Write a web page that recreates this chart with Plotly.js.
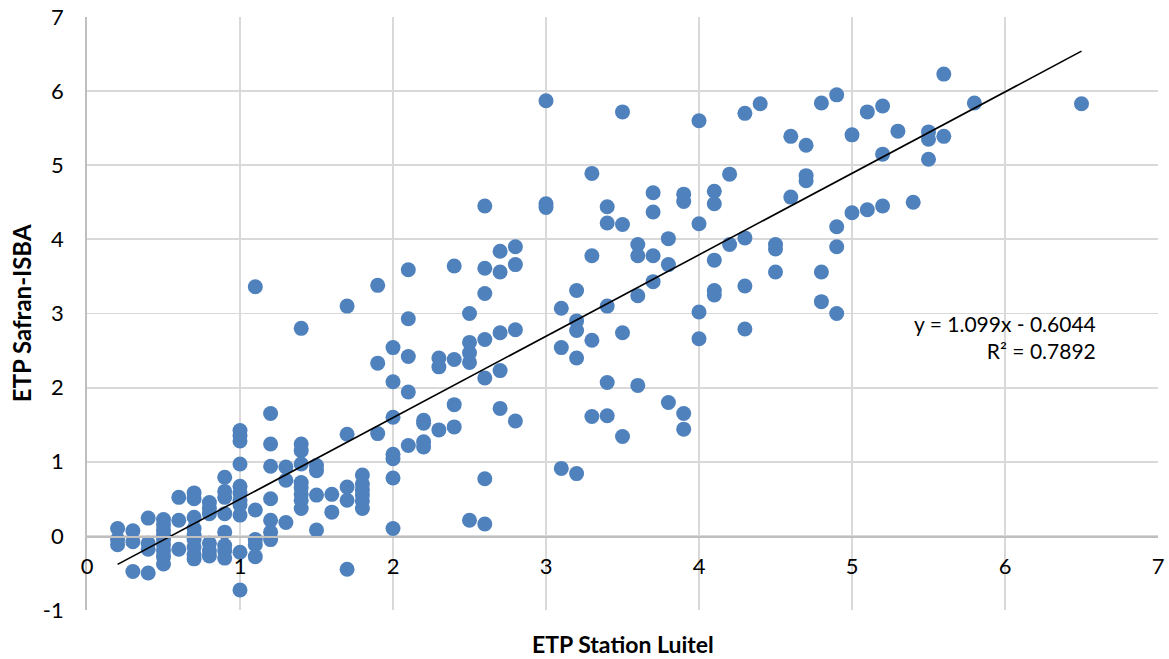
<!DOCTYPE html>
<html>
<head>
<meta charset="utf-8">
<script src="https://cdn.plot.ly/plotly-3.0.1.min.js"></script>
<style>html,body{margin:0;padding:0;background:#fff;}#chart{width:1169px;height:659px;}</style>
</head>
<body>
<div id="chart"></div>
<script>
// ETP Station Luitel values (x) and the ETP Safran-ISBA values observed at each (y)
const stationX = [0.2,0.3,0.4,0.5,0.6,0.7,0.8,0.9,1.0,1.1,1.2,1.3,1.4,1.5,1.6,1.7,1.8,1.9,2.0,2.1,2.2,2.3,2.4,2.5,2.6,2.7,2.8,3.0,3.1,3.2,3.3,3.4,3.5,3.6,3.7,3.8,3.9,4.0,4.1,4.2,4.3,4.4,4.5,4.6,4.7,4.8,4.9,5.0,5.1,5.2,5.3,5.4,5.5,5.6,5.8,6.5];
const safranY = [
  [0.1,-0.05,-0.12],
  [0.07,-0.08,-0.48],
  [0.24,-0.1,-0.18,-0.5],
  [0.22,0.15,0.08,0.02,-0.05,-0.12,-0.2,-0.28,-0.38],
  [0.52,0.21,-0.18],
  [0.58,0.5,0.25,0.1,0.02,-0.05,-0.15,-0.25,-0.31],
  [0.45,0.37,0.3,-0.1,-0.2,-0.27],
  [0.79,0.6,0.52,0.3,0.05,-0.13,-0.2,-0.3],
  [1.42,1.35,1.28,0.97,0.67,0.58,0.48,0.42,0.28,-0.22,-0.73],
  [3.36,0.35,-0.05,-0.12,-0.28],
  [1.65,1.24,0.94,0.5,0.21,0.05,-0.05],
  [0.93,0.75,0.18],
  [2.8,1.24,1.15,0.97,0.72,0.65,0.56,0.48,0.37],
  [0.95,0.88,0.55,0.08],
  [0.56,0.32],
  [3.1,1.37,0.66,0.48,-0.45],
  [0.82,0.7,0.62,0.55,0.47,0.37],
  [3.38,2.33,1.38],
  [2.54,2.08,1.6,1.1,1.04,0.78,0.1],
  [3.59,2.93,2.42,1.94,1.22],
  [1.56,1.52,1.27,1.2],
  [2.4,2.28,1.43],
  [3.64,2.38,1.77,1.47],
  [3.0,2.61,2.47,2.34,0.21],
  [4.45,3.61,3.27,2.65,2.13,0.77,0.16],
  [3.84,3.56,2.74,2.23,1.72],
  [3.9,3.66,2.78,1.55],
  [5.87,4.48,4.43],
  [3.07,2.54,0.91],
  [3.31,2.9,2.77,2.4,0.84],
  [4.89,3.78,2.64,1.61],
  [4.44,4.22,3.1,2.07,1.62],
  [5.72,4.2,2.74,1.34],
  [3.93,3.78,3.24,2.03],
  [4.63,4.37,3.78,3.43],
  [4.01,3.66,1.8],
  [4.61,4.51,1.65,1.44],
  [5.6,4.21,3.02,2.66],
  [4.65,4.48,3.72,3.31,3.25],
  [4.88,3.93],
  [5.7,4.02,3.37,2.79],
  [5.83],
  [3.93,3.87,3.56],
  [5.39,4.57],
  [5.27,4.86,4.79],
  [5.84,3.56,3.16],
  [5.95,4.17,3.9,3.0],
  [5.41,4.36],
  [5.72,4.4],
  [5.8,5.15,4.45],
  [5.46],
  [4.5],
  [5.45,5.35,5.08],
  [6.23,5.39],
  [5.84],
  [5.83]
];
const slope = 1.099;
const intercept = -0.6044;
const eqText = "y = 1.099x - 0.6044<br>R² = 0.7892";
const xTicks = [0,1,2,3,4,5,6,7];
const yTicks = [-1,0,1,2,3,4,5,6,7];

const xs = [], ys = [];
stationX.forEach((x, i) => safranY[i].forEach(y => { xs.push(x); ys.push(y); }));
const xmin = Math.min(...xs), xmax = Math.max(...xs);

const font = "Lato, 'Open Sans', sans-serif";
const data = [
  {type:'scatter', mode:'markers', x: xs, y: ys,
   marker:{color:'#4F81BD', size:15, line:{width:0}}, hoverinfo:'x+y', showlegend:false},
  {type:'scatter', mode:'lines', x:[xmin, xmax], y:[slope*xmin+intercept, slope*xmax+intercept],
   line:{color:'#000000', width:1.6}, showlegend:false, hoverinfo:'skip'}
];
const layout = {
  width:1169, height:659,
  margin:{l:87, r:11, t:17, b:49},
  paper_bgcolor:'#ffffff', plot_bgcolor:'#ffffff',
  font:{family:font, size:22, color:'#000000'},
  showlegend:false,
  xaxis:{range:[0,7], tickvals:xTicks, ticktext:xTicks.map(String),
    showgrid:true, gridcolor:'#D9D9D9', gridwidth:1.8,
    zeroline:false, showline:true, linecolor:'#BFBFBF', linewidth:1.8,
    anchor:'free', position:0.125, ticks:'outside', ticklen:10, tickcolor:'rgba(0,0,0,0)',
    tickfont:{family:font, size:22, color:'#000'}},
  yaxis:{range:[-1,7], tickvals:yTicks, ticktext:yTicks.map(String),
    showgrid:true, gridcolor:'#D9D9D9', gridwidth:1.8,
    zeroline:false, showline:true, linecolor:'#BFBFBF', linewidth:1.8,
    ticks:'outside', ticklen:17, tickcolor:'rgba(0,0,0,0)',
    tickfont:{family:font, size:22, color:'#000'}},
  annotations:[
    {text:'<b>ETP Station Luitel</b>', xref:'paper', yref:'paper', x:0.5, y:-0.057,
     xanchor:'center', yanchor:'middle', showarrow:false, font:{family:font, size:23}},
    {text:'<b>ETP Safran-ISBA</b>', xref:'paper', yref:'paper', x:-0.061, y:0.5, textangle:-90,
     xanchor:'center', yanchor:'middle', showarrow:false, font:{family:font, size:24}},
    {text:eqText, xref:'x', yref:'y', x:6.61, y:2.68, xanchor:'right', yanchor:'middle', align:'right',
     showarrow:false, font:{family:font, size:21}}
  ]
};
Plotly.newPlot('chart', data, layout, {displayModeBar:false, staticPlot:true});
</script>
</body>
</html>
